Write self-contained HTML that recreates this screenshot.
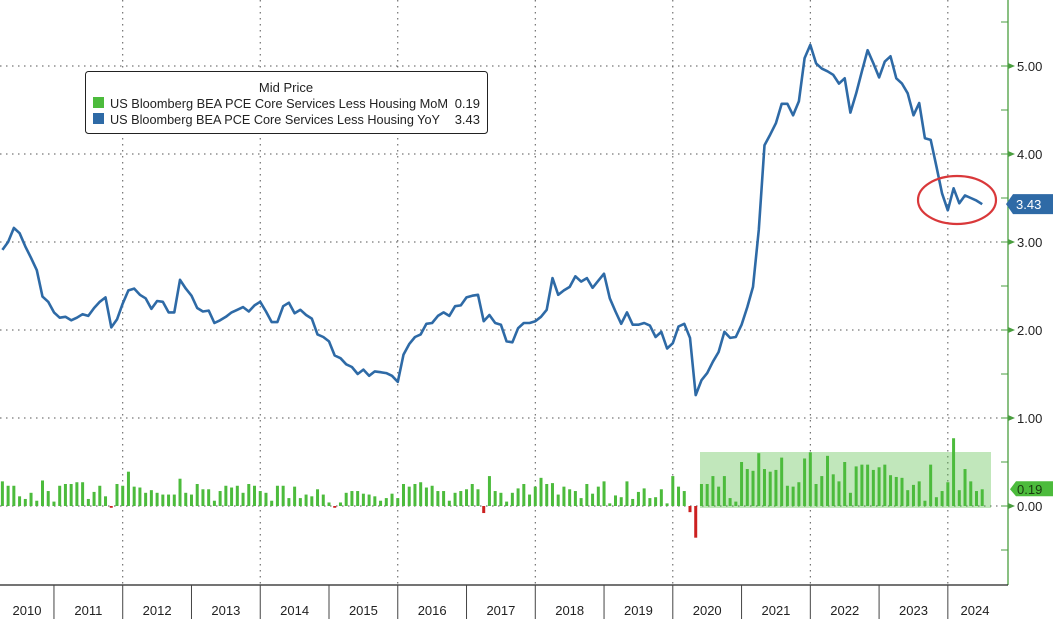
<!DOCTYPE html>
<html><head><meta charset="utf-8">
<style>
html,body{margin:0;padding:0;background:#fff;}
svg{display:block;font-family:"Liberation Sans",sans-serif;}
</style></head>
<body>
<svg id="chart" width="1053" height="619" viewBox="0 0 1053 619" xmlns="http://www.w3.org/2000/svg">
<g id="grid"></g>
<rect x="700" y="452" width="291" height="56" fill="#4cbb3c" fill-opacity="0.35"/>
<g id="bars"></g>
<path id="yoyLine" fill="none" stroke="#2e6aa6" stroke-width="2.6" stroke-linejoin="round"/>
<ellipse cx="957" cy="200" rx="39" ry="24" fill="none" stroke="#d9383a" stroke-width="2.2"/>
<g id="axes"></g>
<g>
  <rect x="85.5" y="71.5" width="402" height="62" rx="3" fill="#fff" stroke="#222" stroke-width="1"/>
  <text x="286" y="92" font-size="13" text-anchor="middle" fill="#222">Mid Price</text>
  <rect x="93" y="97" width="11" height="11" fill="#4cbb3c"/>
  <text x="110" y="108" font-size="13" fill="#222" textLength="338" lengthAdjust="spacingAndGlyphs">US Bloomberg BEA PCE Core Services Less Housing MoM</text>
  <text x="480" y="108" font-size="13" text-anchor="end" fill="#222">0.19</text>
  <rect x="93" y="113" width="11" height="11" fill="#2e6aa6"/>
  <text x="110" y="124" font-size="13" fill="#222" textLength="330" lengthAdjust="spacingAndGlyphs">US Bloomberg BEA PCE Core Services Less Housing YoY</text>
  <text x="480" y="124" font-size="13" text-anchor="end" fill="#222">3.43</text>
</g>
</svg>
<script>
// data: monthly, index 0 = Jan 2010
const yoyStart = 3;
const yoyValues = [2.91,3.00,3.16,3.10,2.95,2.82,2.68,2.38,2.32,
2.20,2.14,2.15,2.11,2.14,2.18,2.16,2.25,2.32,2.37,2.03,2.12,
2.30,2.45,2.47,2.40,2.36,2.24,2.33,2.32,2.20,2.20,2.57,2.47,
2.39,2.25,2.21,2.22,2.08,2.11,2.15,2.20,2.23,2.26,2.21,2.28,
2.32,2.21,2.09,2.09,2.27,2.31,2.19,2.23,2.17,2.13,1.95,1.92,
1.87,1.71,1.68,1.61,1.58,1.50,1.55,1.48,1.53,1.52,1.51,1.48,
1.41,1.72,1.84,1.92,1.95,2.07,2.08,2.16,2.20,2.16,2.27,2.28,
2.37,2.39,2.40,2.10,2.17,2.08,2.06,1.87,1.86,2.02,2.08,2.08,
2.10,2.15,2.23,2.59,2.40,2.45,2.49,2.61,2.55,2.59,2.48,2.56,
2.64,2.36,2.21,2.07,2.20,2.06,2.06,2.08,2.05,1.92,1.98,1.79,
1.85,2.04,2.07,1.91,
1.26,1.43,1.51,1.64,1.75,1.98,1.91,1.92,2.06,2.26,
2.49,3.14,4.10,4.22,4.35,4.57,4.57,4.44,4.60,5.09,
5.24,5.03,4.97,4.94,4.90,4.80,4.86,4.47,4.69,4.94,
5.18,5.03,4.87,5.05,5.11,4.86,4.80,4.69,4.44,4.58,
4.18,4.16,3.86,3.55,3.36,3.61,3.44,3.53,3.50,3.47,3.43];
const momStart = 3;
const momValues = [0.28,0.23,0.23,0.11,0.08,0.15,0.06,0.29,0.17,0.05,0.23,0.25,0.25,0.27,0.27,0.08,0.16,0.23,0.11,-0.02,
0.25,0.23,0.39,0.22,0.21,0.15,0.18,0.15,0.13,0.13,0.13,0.31,0.15,0.13,0.25,0.19,0.19,0.06,0.17,0.23,
0.21,0.23,0.15,0.25,0.23,0.17,0.15,0.06,0.23,0.23,0.09,0.22,0.09,0.13,0.11,0.19,0.13,0.04,-0.02,0.04,
0.15,0.17,0.17,0.14,0.13,0.11,0.06,0.09,0.14,0.09,0.25,0.22,0.25,0.27,0.21,0.23,0.17,0.17,0.06,0.15,
0.17,0.19,0.25,0.19,-0.08,0.34,0.17,0.15,0.05,0.15,0.20,
0.25,0.13,0.22,0.32,0.25,0.26,0.13,0.22,0.19,0.17,0.09,0.25,0.14,0.22,0.28,0.03,0.12,0.10,0.28,0.08,
0.16,0.20,0.09,0.10,0.19,0.03,0.34,0.22,0.17,-0.07,-0.36,0.25,0.25,0.34,0.22,0.34,0.09,0.05,0.50,0.42,
0.40,0.60,0.42,0.39,0.41,0.55,0.23,0.22,0.27,0.54,0.61,0.25,0.34,0.57,0.36,0.28,0.50,0.15,0.45,0.47,
0.47,0.41,0.44,0.47,0.35,0.33,0.32,0.18,0.24,0.28,0.06,0.47,0.10,0.17,0.27,0.77,0.18,0.42,0.28,0.17,0.19];
const yearLabels = ["2010","2011","2012","2013","2014","2015","2016","2017","2018","2019","2020","2021","2022","2023","2024"];
const yTicks = [0,1,2,3,4,5];
const lastYoY = "3.43";
const lastMoM = "0.19";

const NS="http://www.w3.org/2000/svg";
const X0=-14.8, MW=5.73, AXX=1008, PB=585;
function xm(m){return X0+MW*m;}
function yv(v){return 506-88*v;}
function mk(tag,attrs,parent){const e=document.createElementNS(NS,tag);for(const k in attrs)e.setAttribute(k,attrs[k]);parent.appendChild(e);return e;}

const grid=document.getElementById('grid');
yTicks.forEach(t=>{
  const l=mk('line',{x1:0,x2:AXX,y1:yv(t),y2:yv(t),stroke:'#555','stroke-width':1,'stroke-dasharray':'1.5,4.5'},grid);
  
  
});
yearLabels.forEach((y,i)=>{
  if(i%2===0){
    const l=mk('line',{x1:xm(12*i),x2:xm(12*i),y1:0,y2:PB,stroke:'#555','stroke-width':1,'stroke-dasharray':'1.5,4.5'},grid);
    
    
  }
});

const bars=document.getElementById('bars');
momValues.forEach((v,i)=>{
  const x=xm(momStart+i);
  const y0=yv(0), y1=yv(v);
  const r=mk('rect',{x:x-1.5,width:3,y:Math.min(y0,y1),height:Math.max(0.8,Math.abs(y1-y0)),fill:v<0?'#cc2020':'#4cbb3c'},bars);
  
  
});

let d='';
yoyValues.forEach((v,i)=>{d+=(i?'L':'M')+xm(yoyStart+i).toFixed(1)+','+yv(v).toFixed(1);});
document.getElementById('yoyLine').setAttribute('d',d);

const axes=document.getElementById('axes');
mk('line',{x1:AXX,x2:AXX,y1:0,y2:PB,stroke:'#4a9e3f','stroke-width':1.3},axes);
mk('line',{x1:0,x2:AXX,y1:PB,y2:PB,stroke:'#222','stroke-width':1.3},axes);
for(let v=-0.5;v<=5.6;v+=0.5){
  mk('line',{x1:AXX-7,x2:AXX,y1:yv(v),y2:yv(v),stroke:'#4a9e3f','stroke-width':1},axes);
}
yTicks.forEach(t=>{
  mk('path',{d:`M${AXX},${yv(t)-3}L${AXX+7},${yv(t)}L${AXX},${yv(t)+3}Z`,fill:'#4a9e3f'},axes);
  const tx=mk('text',{x:1017,y:yv(t)+5,'font-size':13,fill:'#222'},axes);
  tx.textContent=t.toFixed(2);
  
  
});
yearLabels.forEach((y,i)=>{
  const xs=xm(12*i);
  if(xs>0) mk('line',{x1:xs,x2:xs,y1:PB,y2:619,stroke:'#444','stroke-width':1},axes);
  const t=mk('text',{x:Math.max(27,Math.min(xs+34.4,975)),y:615,'font-size':13,'text-anchor':'middle',fill:'#222'},axes);
  t.textContent=y;
  
  
});
// last value tags
const yy=yv(parseFloat(lastYoY));
const tagY=mk('path',{d:`M1006,${yy}L1013,${yy-10}L1053,${yy-10}L1053,${yy+10}L1013,${yy+10}Z`,fill:'#2e6aa6'},axes);


const ty=mk('text',{x:1016,y:yy+5,'font-size':13,fill:'#fff'},axes);ty.textContent=lastYoY;
const ym=yv(parseFloat(lastMoM));
const tagM=mk('path',{d:`M1010,${ym}L1016,${ym-8}L1053,${ym-8}L1053,${ym+7}L1016,${ym+7}Z`,fill:'#4cbb3c'},axes);


const tm=mk('text',{x:1017,y:ym+4.5,'font-size':13,fill:'#1a3a10'},axes);tm.textContent=lastMoM;
</script>
</body></html>
